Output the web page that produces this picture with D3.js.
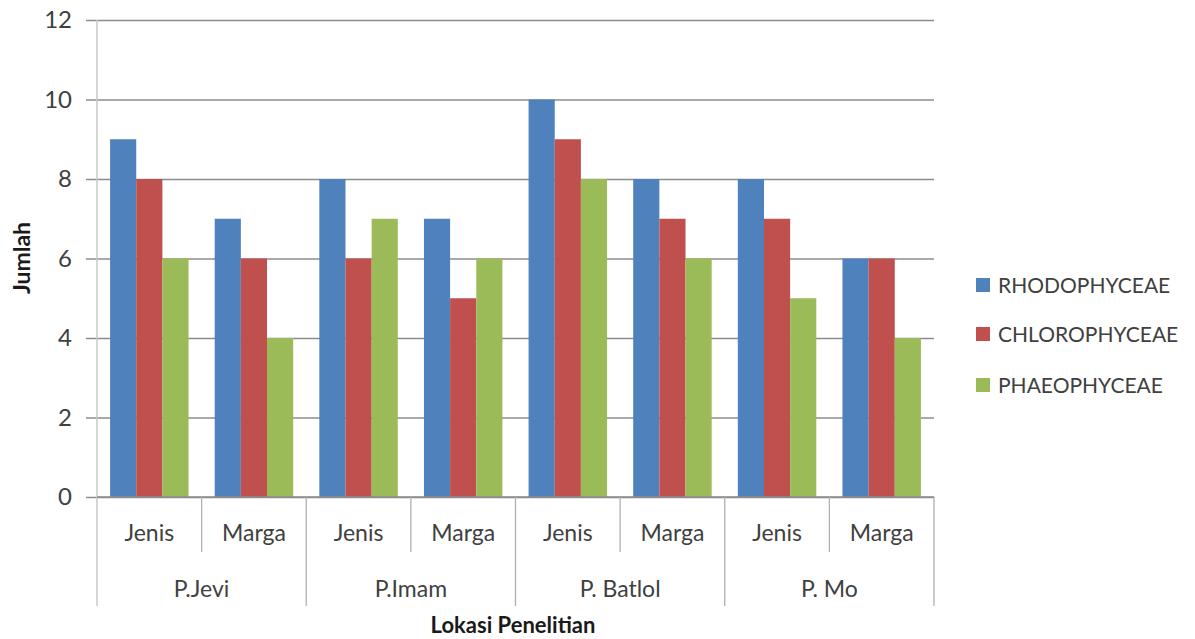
<!DOCTYPE html>
<html><head><meta charset="utf-8">
<script src="https://cdn.jsdelivr.net/npm/d3@7"></script>
<style>body{margin:0;background:#fff}svg{display:block}text{font-family:Lato,"Open Sans",sans-serif;fill:#333}</style>
</head><body><svg id="c" width="1195" height="639"></svg>
<script>
const locations = ["P.Jevi", "P.Imam", "P. Batlol", "P. Mo"];
const subCats = ["Jenis", "Marga"];
const seriesNames = ["RHODOPHYCEAE", "CHLOROPHYCEAE", "PHAEOPHYCEAE"];
const seriesColors = ["#4F81BD", "#C0504D", "#9BBB59"];
const rhodophyceae = [9, 7, 8, 7, 10, 8, 8, 6];
const chlorophyceae = [8, 6, 6, 5, 9, 7, 7, 6];
const phaeophyceae = [6, 4, 7, 6, 8, 6, 5, 4];
const yTicks = [0, 2, 4, 6, 8, 10, 12];

const series = [rhodophyceae, chlorophyceae, phaeophyceae];
const cats = [];
locations.forEach(l => subCats.forEach(s => cats.push(l + "|" + s)));

const svg = d3.select("#c");
const L = 97, R = 934, T = 20, B = 497;
const x = d3.scaleBand().domain(cats).range([L, R]).paddingInner(0).paddingOuter(0);
const y = d3.scaleLinear().domain([0, 12]).range([B, T]);
const inner = d3.scaleBand().domain(d3.range(3)).range([0, x.bandwidth()]).paddingOuter(0.5).paddingInner(0);

// gridlines + ticks
const yAxis = d3.axisLeft(y).tickValues(yTicks).tickSize(-(R - L)).tickFormat(d3.format("d"));
const ga = svg.append("g").attr("transform", `translate(${L},0)`).call(yAxis);
ga.select(".domain").remove();
ga.selectAll(".tick line").attr("x1", -11).attr("stroke", "#8c8c8c").attr("stroke-width", 1.3);
ga.selectAll(".tick text").attr("x", -25).attr("font-size", 24).style("fill", "#404040");

// bars
series.forEach((vals, si) => {
  svg.append("g").selectAll("rect").data(vals).join("rect")
    .attr("x", (d, i) => x(cats[i]) + inner(si))
    .attr("width", inner.bandwidth())
    .attr("y", d => y(d))
    .attr("height", d => B - y(d))
    .attr("fill", seriesColors[si]);
});

// axes lines
svg.append("line").attr("x1", L).attr("x2", L).attr("y1", T).attr("y2", 606).attr("stroke", "#c8c8c8").attr("stroke-width", 1.5);
svg.append("line").attr("x1", L).attr("x2", R).attr("y1", B).attr("y2", B).attr("stroke", "#8c8c8c").attr("stroke-width", 1.3);
cats.forEach((c, i) => {
  const xe = x(c) + x.bandwidth();
  const isGroupEnd = i % 2 === 1;
  svg.append("line").attr("x1", xe).attr("x2", xe).attr("y1", B).attr("y2", isGroupEnd ? 606 : 552)
    .attr("stroke", "#b0b0b0").attr("stroke-width", 1.3);
  const [loc, sub] = c.split("|");
  svg.append("text").attr("x", x(c) + x.bandwidth() / 2).attr("y", 541).attr("text-anchor", "middle")
    .attr("font-size", 23).style("fill", "#404040").text(sub);
});
locations.forEach(loc => {
  const cx = x(loc + "|Jenis") + x.bandwidth();
  svg.append("text").attr("x", cx).attr("y", 597).attr("text-anchor", "middle")
    .attr("font-size", 23).style("fill", "#404040").text(loc);
});

// axis titles
svg.append("text").attr("x", 513).attr("y", 633).attr("text-anchor", "middle")
  .attr("font-size", 22).attr("font-weight", "bold").style("fill", "#1a1a1a").text("Lokasi Penelitian");
svg.append("text").attr("transform", "translate(30,258) rotate(-90)").attr("text-anchor", "middle")
  .attr("font-size", 23).attr("font-weight", "bold").style("fill", "#1a1a1a").text("Jumlah");

// legend
const legY = [285, 334, 385];
seriesNames.forEach((n, i) => {
  svg.append("rect").attr("x", 976).attr("y", legY[i] - 7).attr("width", 14).attr("height", 14).attr("fill", seriesColors[i]);
  svg.append("text").attr("x", 998).attr("y", legY[i] + 8).attr("font-size", 21).style("fill", "#404040").text(n);
});
</script></body></html>
